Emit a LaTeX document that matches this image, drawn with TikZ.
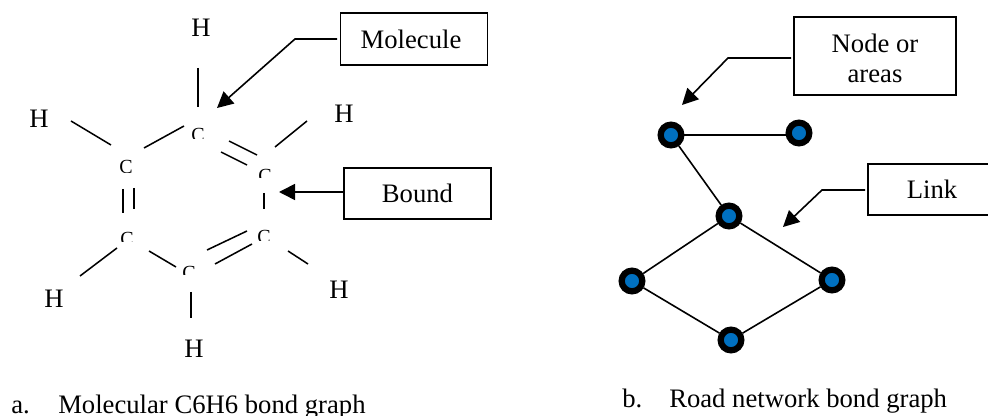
\documentclass[tikz,border=0pt]{standalone}
\usepackage{fontspec}
\setmainfont{Liberation Serif}
\usetikzlibrary{arrows.meta}
\definecolor{nodeblue}{HTML}{0070C0}
\newcommand{\carbon}[4]{% name, x, baseline y, clip y
  \begin{scope}
    \clip (#2-9,#3-18) rectangle (#2+9,#4);
    \node[cnode] (#1) at (#2,#3) {C};
  \end{scope}}
\tikzset{
  cnode/.style={anchor=base,inner sep=0pt,font=\fontsize{15pt}{15pt}\selectfont},
  lab/.style={inner sep=0pt,font=\fontsize{20pt}{23pt}\selectfont},
  captext/.style={inner sep=0pt,anchor=base west,font=\fontsize{20pt}{23pt}\selectfont},
  bond/.style={line width=1.15pt,black},
  callbox/.style={draw=black,line width=1.35pt,inner sep=0pt,align=center,font=\fontsize{20pt}{23pt}\selectfont},
  callout/.style={line width=1.2pt,black,-{Triangle[length=12pt,width=12pt]}},
  blob/.style={circle,draw=black,fill=nodeblue,line width=4.7pt,minimum size=15.5pt,inner sep=0pt},
  link/.style={line width=1.2pt,black}
}
\begin{document}
\begin{tikzpicture}[x=0.75pt,y=-0.75pt]
\useasboundingbox[fill=white] (0,0) rectangle (988,416);
% hydrogens
\node[lab] (h1) at (201,28) {H};
\node[lab] (h2) at (39,119) {H};
\node[lab] (h3) at (344,114) {H};
\node[lab] (h4) at (54,299) {H};
\node[lab] (h5) at (339,290) {H};
\node[lab] (h6) at (194,349) {H};
% carbons (lower parts hidden as in the reference)
\carbon{c1}{198}{141.5}{139}
\carbon{c2}{126}{174}{172.5}
\carbon{c3}{265}{182.5}{178}
\carbon{c4}{127}{245.5}{242}
\carbon{c5}{264}{243.5}{241}
\carbon{c6}{189}{279.5}{275}
% bonds
\coordinate (a1) at (198,68);  \coordinate (b1) at (198,107);
\coordinate (a2) at (71,121);  \coordinate (b2) at (111,145);
\coordinate (a3) at (144,148); \coordinate (b3) at (184,126);
\coordinate (a4) at (229,141); \coordinate (b4) at (257,155);
\coordinate (a5) at (221,152); \coordinate (b5) at (247,165);
\coordinate (a6) at (307,121); \coordinate (b6) at (275,147);
\coordinate (a7) at (123,189); \coordinate (b7) at (123,213);
\coordinate (a8) at (134,188); \coordinate (b8) at (134,209);
\coordinate (a9) at (264,193); \coordinate (b9) at (264,209);
\coordinate (a10) at (117,248); \coordinate (b10) at (80,276);
\coordinate (a11) at (149,251); \coordinate (b11) at (176,267);
\coordinate (a12) at (207,250); \coordinate (b12) at (247,231);
\coordinate (a13) at (215,264); \coordinate (b13) at (252,244);
\coordinate (a14) at (288,251); \coordinate (b14) at (308,264);
\coordinate (a15) at (191,292); \coordinate (b15) at (191,318);
\foreach \i in {1,...,15} \draw[bond] (a\i) -- (b\i);
% callout boxes
\node[callbox,minimum width=110.25pt,minimum height=38.6pt] (mol) at (414,39) {Molecule\hspace*{4.5pt}};
\node[callbox,minimum width=110.25pt,minimum height=38.6pt] (bnd) at (417.5,193.5) {Bound};
\node[callbox,minimum width=121.5pt,minimum height=58.5pt] (noa) at (875,56) {\rule{0pt}{17.25pt}Node or\\areas};
\node[callbox,minimum width=96pt,minimum height=38.6pt] (lnk) at (932,189.5) {Link};
\coordinate (molS) at (337,39); \coordinate (molK) at (295,39); \coordinate (molT) at (217,108);
\coordinate (bndT) at (279,192);
\coordinate (noaS) at (791,58); \coordinate (noaK) at (728,58); \coordinate (noaT) at (682,105);
\coordinate (lnkS) at (865,190); \coordinate (lnkK) at (822,190); \coordinate (lnkT) at (783,227);
\draw[callout] (molS) -- (molK) -- (molT);
\draw[callout] (bnd.west |- bndT) -- (bndT);
\draw[callout] (noaS) -- (noaK) -- (noaT);
\draw[callout] (lnkS) -- (lnkK) -- (lnkT);
% road network
\node[blob] (n1) at (671,135) {};
\node[blob] (n2) at (799,133) {};
\node[blob] (n3) at (729,216) {};
\node[blob] (n4) at (632,281) {};
\node[blob] (n5) at (832,280) {};
\node[blob] (n6) at (731,340) {};
\draw[link] (n1.east) -- (n1.east -| n2.west);
\draw[link] (n1) -- (n3);
\draw[link] (n3) -- (n4);
\draw[link] (n3) -- (n5);
\draw[link] (n4) -- (n6);
\draw[link] (n5) -- (n6);
% captions
\node[captext] (ca) at (11,413) {a.};
\node[captext] (cb) at (58,413) {Molecular C6H6 bond graph};
\node[captext] (cc) at (622,407.5) {b.};
\node[captext] (cd) at (669,407.5) {Road network bond graph};
\end{tikzpicture}
\end{document}
